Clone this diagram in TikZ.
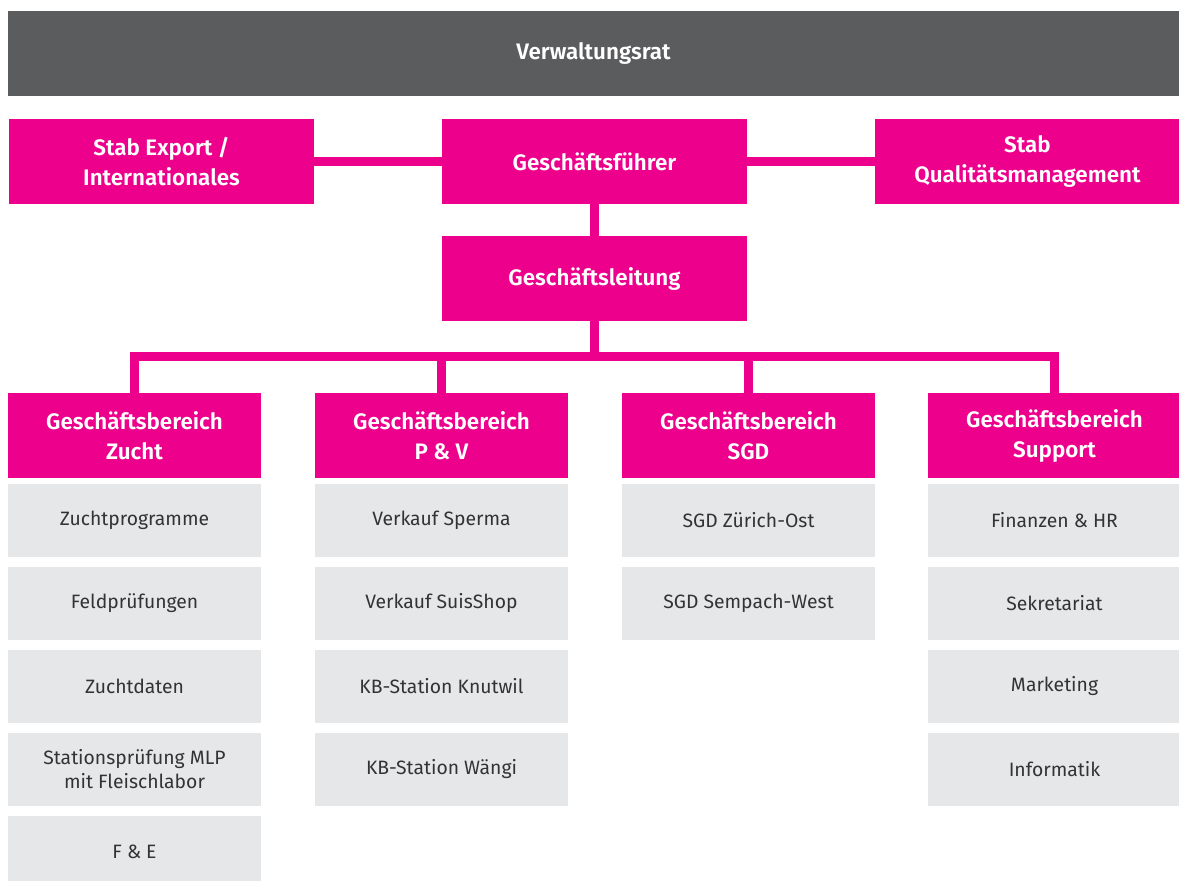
\documentclass[tikz,border=0pt]{standalone}
\usepackage{fontspec}
\setmainfont{Fira Sans}[BoldFont={Fira Sans SemiBold}]
\usepackage{tikz}
\usetikzlibrary{positioning}
\definecolor{board}{HTML}{5B5C5E}
\definecolor{magenta}{HTML}{EC008C}
\definecolor{paleg}{HTML}{E6E7E8}
\definecolor{ink}{HTML}{333333}
\tikzstyle{topbox}  = [rectangle, minimum width=228.75pt, minimum height=63.75pt,
                       inner sep=0pt, align=center, fill=magenta, text=white,
                       font=\fontsize{16.8}{22.5}\selectfont\bfseries]
\tikzstyle{headbox} = [topbox, minimum width=189.75pt]
\tikzstyle{unitbox} = [rectangle, minimum width=189.75pt, minimum height=54.75pt,
                       inner sep=0pt, align=center, fill=paleg, text=ink,
                       font=\fontsize{14.5}{18}\selectfont]
\tikzstyle{conn}    = [draw=magenta, line width=6.75pt]

\begin{document}
\begin{tikzpicture}[x=0.75pt, y=-0.75pt, node distance=7.1pt]
  \useasboundingbox (0,0) rectangle (1179,881);

  %% Board
  \node[fill=board, minimum width=878.25pt, minimum height=63.75pt, inner sep=0pt,
        text=white, font=\fontsize{16.8}{22.5}\selectfont\bfseries]
        (vr) at (593.5,53.5) {Verwaltungsrat};

  %% Management
  \node[topbox] (export) at (161.5,161.5) {Stab Export /\\Internationales};
  \node[topbox] (gf) at (594.5,161.5) {Geschäftsführer};
  \node[topbox] (qm) at (1027.5,161.5) {Stab\\Qualitätsmanagement};
  \node[topbox] (gl) at (594.5,278.5) {Geschäftsleitung};

  %% Business units
  \node[headbox] (zucht) at (134.5,435.5) {Geschäftsbereich\\Zucht};
  \node[headbox] (pv) at (441.5,435.5) {Geschäftsbereich\\P \& V};
  \node[headbox] (sgd) at (748.5,435.5) {Geschäftsbereich\\SGD};
  \node[headbox] (support) at (1054.5,435.5) {Geschäftsbereich\\Support};

  %% Zucht
  \node[unitbox, below=3.75pt of zucht] (z1) {Zuchtprogramme};
  \node[unitbox, below=of z1] (z2) {Feldprüfungen};
  \node[unitbox, below=of z2] (z3) {Zuchtdaten};
  \node[unitbox, below=of z3] (z4) {Stationsprüfung MLP\\mit Fleischlabor};
  \node[unitbox, below=of z4] (z5) {F \& E};

  %% P & V
  \node[unitbox, below=3.75pt of pv] (p1) {Verkauf Sperma};
  \node[unitbox, below=of p1] (p2) {Verkauf SuisShop};
  \node[unitbox, below=of p2] (p3) {KB-Station Knutwil};
  \node[unitbox, below=of p3] (p4) {KB-Station Wängi};

  %% SGD
  \node[unitbox, below=3.75pt of sgd] (s1) {SGD Zürich-Ost};
  \node[unitbox, below=of s1] (s2) {SGD Sempach-West};

  %% Support
  \node[unitbox, below=3.75pt of support] (u1) {Finanzen \& HR};
  \node[unitbox, below=of u1] (u2) {Sekretariat};
  \node[unitbox, below=of u2] (u3) {Marketing};
  \node[unitbox, below=of u3] (u4) {Informatik};

  %% Lines
  \coordinate (bus) at (594.5,356.5);
  \draw[conn] (export) -- (gf);
  \draw[conn] (gf) -- (qm);
  \draw[conn] (gf) -- (gl);
  \draw[conn] (gl) -- (gl |- bus);
  \draw[conn] (zucht.north) -- (zucht |- bus) -- (support |- bus) -- (support.north);
  \draw[conn] (pv.north) -- (pv |- bus);
  \draw[conn] (sgd.north) -- (sgd |- bus);

\end{tikzpicture}
\end{document}
